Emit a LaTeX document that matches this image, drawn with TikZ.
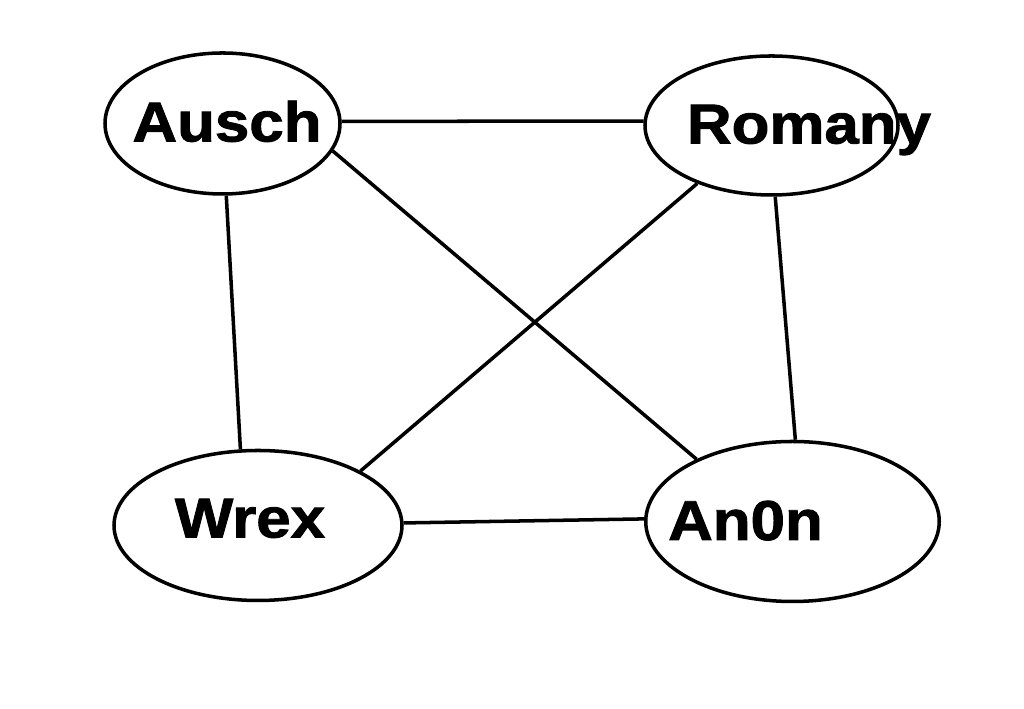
\documentclass[tikz,border=0pt]{standalone}
\usepackage{fontspec}
\setmainfont{Liberation Sans}[BoldFeatures={FakeBold=1.5}]
\usetikzlibrary{shapes.geometric}

\tikzset{
    person/.style={draw=black, line width=2pt, ellipse, inner sep=0pt},
    nametag/.style={anchor=base, font=\bfseries\fontsize{32}{38}\selectfont},
    link/.style={draw=black, line width=2pt}
}

\begin{document}
\begin{tikzpicture}
        \useasboundingbox (0,0) rectangle (20.48,14.18);

        % people
        \node[person, minimum width=4.70cm, minimum height=2.82cm] (ausch) at (4.45,11.71) {};
        \node[person, minimum width=5.06cm, minimum height=2.78cm] (romany) at (15.43,11.67) {};
        \node[person, minimum width=5.76cm, minimum height=3.00cm] (wrex) at (5.16,3.67) {};
        \node[person, minimum width=5.87cm, minimum height=3.20cm] (anon) at (15.85,3.75) {};

        % names
        \node[nametag] (ausch tag) at (4.54,11.35) {\scalebox{1.1}[1]{Ausch}};
        \node[nametag] (romany tag) at (16.18,11.31) {\scalebox{1.1}[1]{Romany}};
        \node[nametag] (wrex tag) at (5.00,3.43) {\scalebox{1.1}[1]{Wrex}};
        \node[nametag] (anon tag) at (14.91,3.38) {\scalebox{1.1}[1]{An0n}};

        % links
        \draw[link] (ausch.1) -- (romany.178);
        \draw[link] (ausch.-87) -- (wrex.103);
        \draw[link] (ausch.-14) -- (anon.147);
        \draw[link] (romany.-142) -- (wrex.28);
        \draw[link] (romany.-87) -- (anon.88);
        \draw[link] (wrex.1) -- (anon.179);

%        \draw[help lines, step=0.5] grid(20.48,14.18);
    \end{tikzpicture}
\end{document}
